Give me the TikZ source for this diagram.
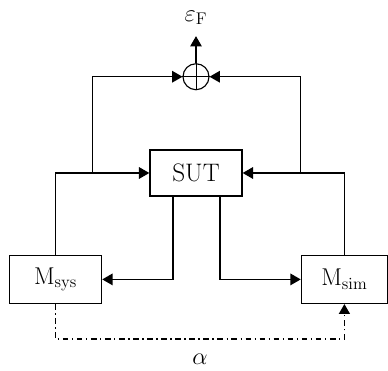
\documentclass[tikz,border=0pt]{standalone}
\usetikzlibrary{arrows,positioning}

\begin{document}
\begin{tikzpicture}[
  font=\fontsize{18}{21}\selectfont,
  block/.style={draw,line width=1pt,minimum width=23mm,minimum height=12mm,align=center},
  adder/.style={draw,line width=.8pt,circle,minimum size=6.5mm,inner sep=0pt},
  link/.style={line width=1pt},
  tie/.style={line width=.9pt,dash pattern=on 4pt off 2.5pt on 1pt off 2.5pt}
]
  \useasboundingbox (-4.9,-4.95) rectangle (4.8,4.325);

  \node[block,minimum height=11.5mm] (sut) {SUT};
  \node[adder,above=14.75mm of sut] (sum) {};
  \draw[line width=.7pt] (sum.north) -- (sum.south) (sum.west) -- (sum.east);
  \node[block,below left=14.5mm and 11.75mm of sut.south west,anchor=north east] (msys) {$\mathrm{M}_{\mathrm{sys}}$};
  \node[block,minimum width=21.5mm,below right=14.5mm and 14.5mm of sut.south east,anchor=north west] (msim) {$\mathrm{M}_{\mathrm{sim}}$};

  \coordinate[left=14.25mm of sut.west] (tapl);
  \coordinate[right=14.5mm of sut.east] (tapr);
  \coordinate[above=6.75mm of sum.north] (out);

  \draw[link,-{triangle 60}] (sum.north) -- (out) node[above=1.5mm]{$\varepsilon_{\mathrm{F}}$};
  \draw[link,-{triangle 60}] (msys.north) |- (sut.west);
  \draw[link,-{triangle 60}] (msim.north) |- (sut.east);
  \draw[link,-{triangle 60}] (tapl) |- (sum.west);
  \draw[link,-{triangle 60}] (tapr) |- (sum.east);
  \draw[link,-{triangle 60}] ([xshift=-5.75mm]sut.south) |- (msys.east);
  \draw[link,-{triangle 60}] ([xshift=6mm]sut.south) |- (msim.west);
  \draw[tie,-{triangle 60}]
    (msys.south) -- ++(0,-8.75mm) -| node[pos=.25,below=2.5mm]{$\alpha$} (msim.south);
\end{tikzpicture}
\end{document}
